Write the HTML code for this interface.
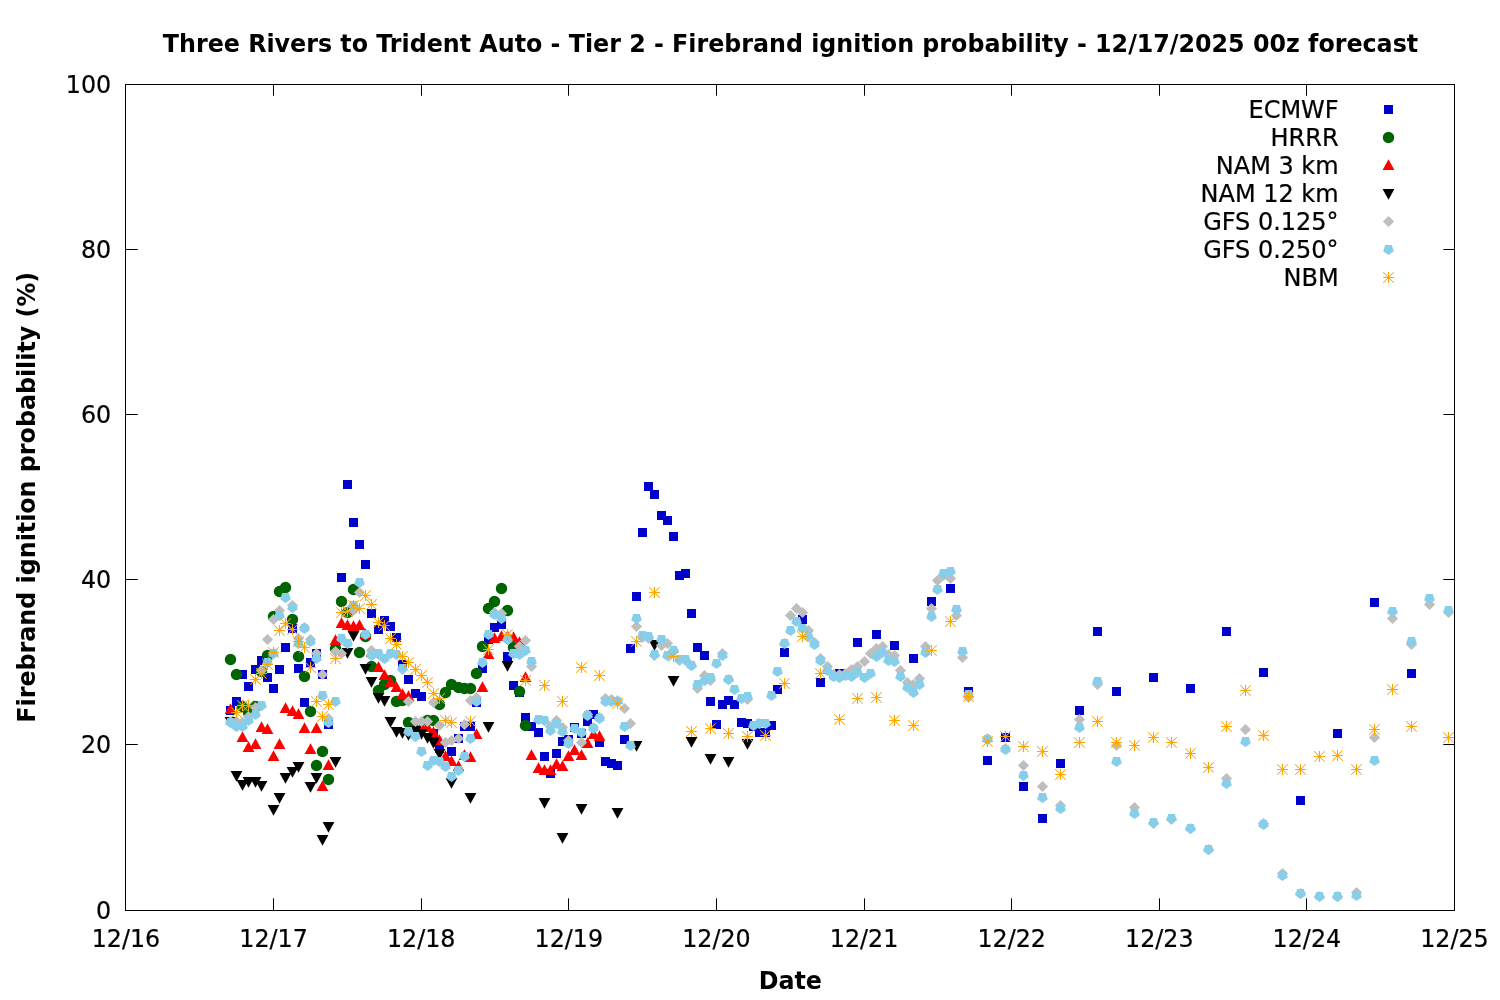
<!DOCTYPE html>
<html lang="en">
<head>
<meta charset="utf-8">
<title>Three Rivers to Trident Auto - Tier 2 - Firebrand ignition probability</title>
<style>
html,body{margin:0;padding:0;background:#fff;}
body{width:1500px;height:1000px;overflow:hidden;}
svg{display:block;font-family:"DejaVu Sans","Liberation Sans",sans-serif;}
.t{font-size:23.77px;fill:#000;stroke:#000;stroke-width:0.22px;}
.b{font-size:23.77px;font-weight:bold;fill:#000;}
.lg{font-size:24.0px;}
.ax{stroke:#000;stroke-width:1;fill:none;shape-rendering:crispEdges;}
</style>
</head>
<body>
<svg width="1500" height="1000" viewBox="0 0 1500 1000">
<rect width="1500" height="1000" fill="#fff"/>
<text class="b" transform="translate(790.50,51.60) scale(1,1.04)" text-anchor="middle" textLength="1255.3" lengthAdjust="spacing">Three Rivers to Trident Auto - Tier 2 - Firebrand ignition probability - 12/17/2025 00z forecast</text>
<text class="b" transform="translate(790.30,989.00) scale(1,1.04)" text-anchor="middle">Date</text>
<text class="b" transform="translate(35.10,497.30) rotate(-90) scale(1,1.04)" text-anchor="middle">Firebrand ignition probability (%)</text>
<text class="t" transform="translate(111.20,919.20) scale(1,1.04)" text-anchor="end">0</text>
<text class="t" transform="translate(111.20,753.20) scale(1,1.04)" text-anchor="end">20</text>
<text class="t" transform="translate(111.20,588.20) scale(1,1.04)" text-anchor="end">40</text>
<text class="t" transform="translate(111.20,423.20) scale(1,1.04)" text-anchor="end">60</text>
<text class="t" transform="translate(111.20,258.20) scale(1,1.04)" text-anchor="end">80</text>
<text class="t" transform="translate(111.20,93.20) scale(1,1.04)" text-anchor="end">100</text>
<text class="t" transform="translate(125.94,947.00) scale(1,1.04)" text-anchor="middle">12/16</text>
<text class="t" transform="translate(273.56,947.00) scale(1,1.04)" text-anchor="middle">12/17</text>
<text class="t" transform="translate(421.17,947.00) scale(1,1.04)" text-anchor="middle">12/18</text>
<text class="t" transform="translate(568.79,947.00) scale(1,1.04)" text-anchor="middle">12/19</text>
<text class="t" transform="translate(716.41,947.00) scale(1,1.04)" text-anchor="middle">12/20</text>
<text class="t" transform="translate(864.02,947.00) scale(1,1.04)" text-anchor="middle">12/21</text>
<text class="t" transform="translate(1011.64,947.00) scale(1,1.04)" text-anchor="middle">12/22</text>
<text class="t" transform="translate(1159.26,947.00) scale(1,1.04)" text-anchor="middle">12/23</text>
<text class="t" transform="translate(1306.87,947.00) scale(1,1.04)" text-anchor="middle">12/24</text>
<text class="t" transform="translate(1454.49,947.00) scale(1,1.04)" text-anchor="middle">12/25</text>
<path d="M125.5 744.5h12.3M1454.5 744.5h-11.2M125.5 579.5h12.3M1454.5 579.5h-11.2M125.5 414.5h12.3M1454.5 414.5h-11.2M125.5 249.5h12.3M1454.5 249.5h-11.2M273.5 910.5v-12.2M273.5 84.5v11.2M421.5 910.5v-12.2M421.5 84.5v11.2M568.5 910.5v-12.2M568.5 84.5v11.2M716.5 910.5v-12.2M716.5 84.5v11.2M864.5 910.5v-12.2M864.5 84.5v11.2M1011.5 910.5v-12.2M1011.5 84.5v11.2M1159.5 910.5v-12.2M1159.5 84.5v11.2M1306.5 910.5v-12.2M1306.5 84.5v11.2" stroke="#000" stroke-width="1" fill="none"/>
<rect class="ax" x="125.5" y="84.5" width="1329" height="826"/>
<g id="pts">
<g class="s-ecmwf">
<rect x="226.00" y="706.00" width="9.0" height="9.0" fill="#0000cd"/>
<rect x="232.00" y="697.00" width="9.0" height="9.0" fill="#0000cd"/>
<rect x="238.00" y="670.00" width="9.0" height="9.0" fill="#0000cd"/>
<rect x="244.00" y="682.00" width="9.0" height="9.0" fill="#0000cd"/>
<rect x="251.00" y="665.00" width="9.0" height="9.0" fill="#0000cd"/>
<rect x="257.00" y="656.00" width="9.0" height="9.0" fill="#0000cd"/>
<rect x="263.00" y="673.00" width="9.0" height="9.0" fill="#0000cd"/>
<rect x="269.00" y="684.00" width="9.0" height="9.0" fill="#0000cd"/>
<rect x="275.00" y="665.00" width="9.0" height="9.0" fill="#0000cd"/>
<rect x="281.00" y="643.00" width="9.0" height="9.0" fill="#0000cd"/>
<rect x="288.00" y="624.00" width="9.0" height="9.0" fill="#0000cd"/>
<rect x="294.00" y="664.00" width="9.0" height="9.0" fill="#0000cd"/>
<rect x="300.00" y="698.00" width="9.0" height="9.0" fill="#0000cd"/>
<rect x="306.00" y="658.00" width="9.0" height="9.0" fill="#0000cd"/>
<rect x="312.00" y="649.00" width="9.0" height="9.0" fill="#0000cd"/>
<rect x="318.00" y="670.00" width="9.0" height="9.0" fill="#0000cd"/>
<rect x="324.00" y="720.00" width="9.0" height="9.0" fill="#0000cd"/>
<rect x="337.00" y="573.00" width="9.0" height="9.0" fill="#0000cd"/>
<rect x="343.00" y="480.00" width="9.0" height="9.0" fill="#0000cd"/>
<rect x="349.00" y="518.00" width="9.0" height="9.0" fill="#0000cd"/>
<rect x="355.00" y="540.00" width="9.0" height="9.0" fill="#0000cd"/>
<rect x="361.00" y="560.00" width="9.0" height="9.0" fill="#0000cd"/>
<rect x="367.00" y="609.00" width="9.0" height="9.0" fill="#0000cd"/>
<rect x="374.00" y="625.00" width="9.0" height="9.0" fill="#0000cd"/>
<rect x="380.00" y="616.00" width="9.0" height="9.0" fill="#0000cd"/>
<rect x="386.00" y="622.00" width="9.0" height="9.0" fill="#0000cd"/>
<rect x="392.00" y="633.00" width="9.0" height="9.0" fill="#0000cd"/>
<rect x="398.00" y="660.00" width="9.0" height="9.0" fill="#0000cd"/>
<rect x="404.00" y="675.00" width="9.0" height="9.0" fill="#0000cd"/>
<rect x="411.00" y="689.00" width="9.0" height="9.0" fill="#0000cd"/>
<rect x="417.00" y="692.00" width="9.0" height="9.0" fill="#0000cd"/>
<rect x="429.00" y="729.00" width="9.0" height="9.0" fill="#0000cd"/>
<rect x="435.00" y="744.00" width="9.0" height="9.0" fill="#0000cd"/>
<rect x="447.00" y="747.00" width="9.0" height="9.0" fill="#0000cd"/>
<rect x="454.00" y="734.00" width="9.0" height="9.0" fill="#0000cd"/>
<rect x="460.00" y="722.00" width="9.0" height="9.0" fill="#0000cd"/>
<rect x="466.00" y="722.00" width="9.0" height="9.0" fill="#0000cd"/>
<rect x="472.00" y="698.00" width="9.0" height="9.0" fill="#0000cd"/>
<rect x="478.00" y="664.00" width="9.0" height="9.0" fill="#0000cd"/>
<rect x="484.00" y="635.00" width="9.0" height="9.0" fill="#0000cd"/>
<rect x="490.00" y="623.00" width="9.0" height="9.0" fill="#0000cd"/>
<rect x="497.00" y="620.00" width="9.0" height="9.0" fill="#0000cd"/>
<rect x="503.00" y="652.00" width="9.0" height="9.0" fill="#0000cd"/>
<rect x="509.00" y="681.00" width="9.0" height="9.0" fill="#0000cd"/>
<rect x="515.00" y="688.00" width="9.0" height="9.0" fill="#0000cd"/>
<rect x="521.00" y="713.00" width="9.0" height="9.0" fill="#0000cd"/>
<rect x="527.00" y="722.00" width="9.0" height="9.0" fill="#0000cd"/>
<rect x="534.00" y="728.00" width="9.0" height="9.0" fill="#0000cd"/>
<rect x="540.00" y="752.00" width="9.0" height="9.0" fill="#0000cd"/>
<rect x="546.00" y="769.00" width="9.0" height="9.0" fill="#0000cd"/>
<rect x="552.00" y="749.00" width="9.0" height="9.0" fill="#0000cd"/>
<rect x="558.00" y="737.00" width="9.0" height="9.0" fill="#0000cd"/>
<rect x="564.00" y="735.00" width="9.0" height="9.0" fill="#0000cd"/>
<rect x="570.00" y="723.00" width="9.0" height="9.0" fill="#0000cd"/>
<rect x="577.00" y="729.00" width="9.0" height="9.0" fill="#0000cd"/>
<rect x="583.00" y="717.00" width="9.0" height="9.0" fill="#0000cd"/>
<rect x="589.00" y="710.00" width="9.0" height="9.0" fill="#0000cd"/>
<rect x="595.00" y="738.00" width="9.0" height="9.0" fill="#0000cd"/>
<rect x="601.00" y="757.00" width="9.0" height="9.0" fill="#0000cd"/>
<rect x="607.00" y="759.00" width="9.0" height="9.0" fill="#0000cd"/>
<rect x="613.00" y="761.00" width="9.0" height="9.0" fill="#0000cd"/>
<rect x="620.00" y="735.00" width="9.0" height="9.0" fill="#0000cd"/>
<rect x="626.00" y="644.00" width="9.0" height="9.0" fill="#0000cd"/>
<rect x="632.00" y="592.00" width="9.0" height="9.0" fill="#0000cd"/>
<rect x="638.00" y="528.00" width="9.0" height="9.0" fill="#0000cd"/>
<rect x="644.00" y="482.00" width="9.0" height="9.0" fill="#0000cd"/>
<rect x="650.00" y="490.00" width="9.0" height="9.0" fill="#0000cd"/>
<rect x="657.00" y="511.00" width="9.0" height="9.0" fill="#0000cd"/>
<rect x="663.00" y="516.00" width="9.0" height="9.0" fill="#0000cd"/>
<rect x="669.00" y="532.00" width="9.0" height="9.0" fill="#0000cd"/>
<rect x="675.00" y="571.00" width="9.0" height="9.0" fill="#0000cd"/>
<rect x="681.00" y="569.00" width="9.0" height="9.0" fill="#0000cd"/>
<rect x="687.00" y="609.00" width="9.0" height="9.0" fill="#0000cd"/>
<rect x="693.00" y="643.00" width="9.0" height="9.0" fill="#0000cd"/>
<rect x="700.00" y="651.00" width="9.0" height="9.0" fill="#0000cd"/>
<rect x="706.00" y="697.00" width="9.0" height="9.0" fill="#0000cd"/>
<rect x="712.00" y="720.00" width="9.0" height="9.0" fill="#0000cd"/>
<rect x="718.00" y="700.00" width="9.0" height="9.0" fill="#0000cd"/>
<rect x="724.00" y="696.00" width="9.0" height="9.0" fill="#0000cd"/>
<rect x="730.00" y="700.00" width="9.0" height="9.0" fill="#0000cd"/>
<rect x="737.00" y="718.00" width="9.0" height="9.0" fill="#0000cd"/>
<rect x="743.00" y="719.00" width="9.0" height="9.0" fill="#0000cd"/>
<rect x="749.00" y="722.00" width="9.0" height="9.0" fill="#0000cd"/>
<rect x="755.00" y="728.00" width="9.0" height="9.0" fill="#0000cd"/>
<rect x="761.00" y="728.00" width="9.0" height="9.0" fill="#0000cd"/>
<rect x="767.00" y="721.00" width="9.0" height="9.0" fill="#0000cd"/>
<rect x="773.00" y="685.00" width="9.0" height="9.0" fill="#0000cd"/>
<rect x="780.00" y="648.00" width="9.0" height="9.0" fill="#0000cd"/>
<rect x="798.00" y="615.00" width="9.0" height="9.0" fill="#0000cd"/>
<rect x="816.00" y="678.00" width="9.0" height="9.0" fill="#0000cd"/>
<rect x="835.00" y="669.00" width="9.0" height="9.0" fill="#0000cd"/>
<rect x="853.00" y="638.00" width="9.0" height="9.0" fill="#0000cd"/>
<rect x="872.00" y="630.00" width="9.0" height="9.0" fill="#0000cd"/>
<rect x="890.00" y="641.00" width="9.0" height="9.0" fill="#0000cd"/>
<rect x="909.00" y="654.00" width="9.0" height="9.0" fill="#0000cd"/>
<rect x="927.00" y="597.00" width="9.0" height="9.0" fill="#0000cd"/>
<rect x="946.00" y="584.00" width="9.0" height="9.0" fill="#0000cd"/>
<rect x="964.00" y="687.00" width="9.0" height="9.0" fill="#0000cd"/>
<rect x="983.00" y="756.00" width="9.0" height="9.0" fill="#0000cd"/>
<rect x="1001.00" y="733.00" width="9.0" height="9.0" fill="#0000cd"/>
<rect x="1019.00" y="782.00" width="9.0" height="9.0" fill="#0000cd"/>
<rect x="1038.00" y="814.00" width="9.0" height="9.0" fill="#0000cd"/>
<rect x="1056.00" y="759.00" width="9.0" height="9.0" fill="#0000cd"/>
<rect x="1075.00" y="706.00" width="9.0" height="9.0" fill="#0000cd"/>
<rect x="1093.00" y="627.00" width="9.0" height="9.0" fill="#0000cd"/>
<rect x="1112.00" y="687.00" width="9.0" height="9.0" fill="#0000cd"/>
<rect x="1149.00" y="673.00" width="9.0" height="9.0" fill="#0000cd"/>
<rect x="1186.00" y="684.00" width="9.0" height="9.0" fill="#0000cd"/>
<rect x="1222.00" y="627.00" width="9.0" height="9.0" fill="#0000cd"/>
<rect x="1259.00" y="668.00" width="9.0" height="9.0" fill="#0000cd"/>
<rect x="1296.00" y="796.00" width="9.0" height="9.0" fill="#0000cd"/>
<rect x="1333.00" y="729.00" width="9.0" height="9.0" fill="#0000cd"/>
<rect x="1370.00" y="598.00" width="9.0" height="9.0" fill="#0000cd"/>
<rect x="1407.00" y="669.00" width="9.0" height="9.0" fill="#0000cd"/>
</g>
<g class="s-hrrr">
<circle cx="230.50" cy="659.50" r="5.7" fill="#006400"/>
<circle cx="236.50" cy="674.50" r="5.7" fill="#006400"/>
<circle cx="242.50" cy="706.50" r="5.7" fill="#006400"/>
<circle cx="248.50" cy="712.50" r="5.7" fill="#006400"/>
<circle cx="255.50" cy="706.50" r="5.7" fill="#006400"/>
<circle cx="261.50" cy="671.50" r="5.7" fill="#006400"/>
<circle cx="267.50" cy="655.50" r="5.7" fill="#006400"/>
<circle cx="273.50" cy="616.50" r="5.7" fill="#006400"/>
<circle cx="279.50" cy="591.50" r="5.7" fill="#006400"/>
<circle cx="285.50" cy="587.50" r="5.7" fill="#006400"/>
<circle cx="292.50" cy="619.50" r="5.7" fill="#006400"/>
<circle cx="298.50" cy="656.50" r="5.7" fill="#006400"/>
<circle cx="304.50" cy="676.50" r="5.7" fill="#006400"/>
<circle cx="310.50" cy="711.50" r="5.7" fill="#006400"/>
<circle cx="316.50" cy="765.50" r="5.7" fill="#006400"/>
<circle cx="322.50" cy="751.50" r="5.7" fill="#006400"/>
<circle cx="328.50" cy="779.50" r="5.7" fill="#006400"/>
<circle cx="335.50" cy="648.50" r="5.7" fill="#006400"/>
<circle cx="341.50" cy="601.50" r="5.7" fill="#006400"/>
<circle cx="347.50" cy="612.50" r="5.7" fill="#006400"/>
<circle cx="353.50" cy="589.50" r="5.7" fill="#006400"/>
<circle cx="359.50" cy="652.50" r="5.7" fill="#006400"/>
<circle cx="365.50" cy="636.50" r="5.7" fill="#006400"/>
<circle cx="371.50" cy="666.50" r="5.7" fill="#006400"/>
<circle cx="378.50" cy="690.50" r="5.7" fill="#006400"/>
<circle cx="384.50" cy="684.50" r="5.7" fill="#006400"/>
<circle cx="390.50" cy="680.50" r="5.7" fill="#006400"/>
<circle cx="396.50" cy="701.50" r="5.7" fill="#006400"/>
<circle cx="402.50" cy="700.50" r="5.7" fill="#006400"/>
<circle cx="408.50" cy="722.50" r="5.7" fill="#006400"/>
<circle cx="427.50" cy="720.50" r="5.7" fill="#006400"/>
<circle cx="433.50" cy="720.50" r="5.7" fill="#006400"/>
<circle cx="439.50" cy="704.50" r="5.7" fill="#006400"/>
<circle cx="445.50" cy="692.50" r="5.7" fill="#006400"/>
<circle cx="451.50" cy="684.50" r="5.7" fill="#006400"/>
<circle cx="458.50" cy="687.50" r="5.7" fill="#006400"/>
<circle cx="464.50" cy="688.50" r="5.7" fill="#006400"/>
<circle cx="470.50" cy="688.50" r="5.7" fill="#006400"/>
<circle cx="476.50" cy="673.50" r="5.7" fill="#006400"/>
<circle cx="482.50" cy="646.50" r="5.7" fill="#006400"/>
<circle cx="488.50" cy="608.50" r="5.7" fill="#006400"/>
<circle cx="494.50" cy="601.50" r="5.7" fill="#006400"/>
<circle cx="501.50" cy="588.50" r="5.7" fill="#006400"/>
<circle cx="507.50" cy="610.50" r="5.7" fill="#006400"/>
<circle cx="513.50" cy="647.50" r="5.7" fill="#006400"/>
<circle cx="519.50" cy="691.50" r="5.7" fill="#006400"/>
<circle cx="525.50" cy="725.50" r="5.7" fill="#006400"/>
</g>
<g class="s-nam3">
<path d="M230.50 703.30l5.9 10.7h-11.8z" fill="#ff0000"/>
<path d="M242.50 731.30l5.9 10.7h-11.8z" fill="#ff0000"/>
<path d="M248.50 741.30l5.9 10.7h-11.8z" fill="#ff0000"/>
<path d="M255.50 738.30l5.9 10.7h-11.8z" fill="#ff0000"/>
<path d="M261.50 721.30l5.9 10.7h-11.8z" fill="#ff0000"/>
<path d="M267.50 723.30l5.9 10.7h-11.8z" fill="#ff0000"/>
<path d="M273.50 750.30l5.9 10.7h-11.8z" fill="#ff0000"/>
<path d="M279.50 738.30l5.9 10.7h-11.8z" fill="#ff0000"/>
<path d="M285.50 702.30l5.9 10.7h-11.8z" fill="#ff0000"/>
<path d="M292.50 705.30l5.9 10.7h-11.8z" fill="#ff0000"/>
<path d="M298.50 708.30l5.9 10.7h-11.8z" fill="#ff0000"/>
<path d="M304.50 722.30l5.9 10.7h-11.8z" fill="#ff0000"/>
<path d="M310.50 743.30l5.9 10.7h-11.8z" fill="#ff0000"/>
<path d="M316.50 722.30l5.9 10.7h-11.8z" fill="#ff0000"/>
<path d="M322.50 780.30l5.9 10.7h-11.8z" fill="#ff0000"/>
<path d="M328.50 759.30l5.9 10.7h-11.8z" fill="#ff0000"/>
<path d="M335.50 634.30l5.9 10.7h-11.8z" fill="#ff0000"/>
<path d="M341.50 617.30l5.9 10.7h-11.8z" fill="#ff0000"/>
<path d="M347.50 619.30l5.9 10.7h-11.8z" fill="#ff0000"/>
<path d="M353.50 620.30l5.9 10.7h-11.8z" fill="#ff0000"/>
<path d="M359.50 619.30l5.9 10.7h-11.8z" fill="#ff0000"/>
<path d="M365.50 628.30l5.9 10.7h-11.8z" fill="#ff0000"/>
<path d="M371.50 646.30l5.9 10.7h-11.8z" fill="#ff0000"/>
<path d="M378.50 661.30l5.9 10.7h-11.8z" fill="#ff0000"/>
<path d="M384.50 669.30l5.9 10.7h-11.8z" fill="#ff0000"/>
<path d="M390.50 676.30l5.9 10.7h-11.8z" fill="#ff0000"/>
<path d="M396.50 681.30l5.9 10.7h-11.8z" fill="#ff0000"/>
<path d="M402.50 688.30l5.9 10.7h-11.8z" fill="#ff0000"/>
<path d="M408.50 690.30l5.9 10.7h-11.8z" fill="#ff0000"/>
<path d="M415.50 720.30l5.9 10.7h-11.8z" fill="#ff0000"/>
<path d="M421.50 720.30l5.9 10.7h-11.8z" fill="#ff0000"/>
<path d="M427.50 721.30l5.9 10.7h-11.8z" fill="#ff0000"/>
<path d="M433.50 726.30l5.9 10.7h-11.8z" fill="#ff0000"/>
<path d="M439.50 734.30l5.9 10.7h-11.8z" fill="#ff0000"/>
<path d="M445.50 750.30l5.9 10.7h-11.8z" fill="#ff0000"/>
<path d="M451.50 755.30l5.9 10.7h-11.8z" fill="#ff0000"/>
<path d="M458.50 760.30l5.9 10.7h-11.8z" fill="#ff0000"/>
<path d="M464.50 749.30l5.9 10.7h-11.8z" fill="#ff0000"/>
<path d="M470.50 751.30l5.9 10.7h-11.8z" fill="#ff0000"/>
<path d="M476.50 728.30l5.9 10.7h-11.8z" fill="#ff0000"/>
<path d="M482.50 681.30l5.9 10.7h-11.8z" fill="#ff0000"/>
<path d="M488.50 648.30l5.9 10.7h-11.8z" fill="#ff0000"/>
<path d="M494.50 632.30l5.9 10.7h-11.8z" fill="#ff0000"/>
<path d="M501.50 630.30l5.9 10.7h-11.8z" fill="#ff0000"/>
<path d="M507.50 630.30l5.9 10.7h-11.8z" fill="#ff0000"/>
<path d="M513.50 631.30l5.9 10.7h-11.8z" fill="#ff0000"/>
<path d="M519.50 636.30l5.9 10.7h-11.8z" fill="#ff0000"/>
<path d="M525.50 671.30l5.9 10.7h-11.8z" fill="#ff0000"/>
<path d="M531.50 749.30l5.9 10.7h-11.8z" fill="#ff0000"/>
<path d="M538.50 762.30l5.9 10.7h-11.8z" fill="#ff0000"/>
<path d="M544.50 764.30l5.9 10.7h-11.8z" fill="#ff0000"/>
<path d="M550.50 764.30l5.9 10.7h-11.8z" fill="#ff0000"/>
<path d="M556.50 758.30l5.9 10.7h-11.8z" fill="#ff0000"/>
<path d="M562.50 760.30l5.9 10.7h-11.8z" fill="#ff0000"/>
<path d="M568.50 750.30l5.9 10.7h-11.8z" fill="#ff0000"/>
<path d="M574.50 744.30l5.9 10.7h-11.8z" fill="#ff0000"/>
<path d="M581.50 749.30l5.9 10.7h-11.8z" fill="#ff0000"/>
<path d="M587.50 737.30l5.9 10.7h-11.8z" fill="#ff0000"/>
<path d="M593.50 728.30l5.9 10.7h-11.8z" fill="#ff0000"/>
<path d="M599.50 730.30l5.9 10.7h-11.8z" fill="#ff0000"/>
</g>
<g class="s-nam12">
<path d="M230.50 727.70l5.9 -10.7h-11.8z" fill="#000000"/>
<path d="M236.50 781.70l5.9 -10.7h-11.8z" fill="#000000"/>
<path d="M242.50 790.70l5.9 -10.7h-11.8z" fill="#000000"/>
<path d="M248.50 787.70l5.9 -10.7h-11.8z" fill="#000000"/>
<path d="M255.50 787.70l5.9 -10.7h-11.8z" fill="#000000"/>
<path d="M261.50 791.70l5.9 -10.7h-11.8z" fill="#000000"/>
<path d="M273.50 815.70l5.9 -10.7h-11.8z" fill="#000000"/>
<path d="M279.50 803.70l5.9 -10.7h-11.8z" fill="#000000"/>
<path d="M285.50 783.70l5.9 -10.7h-11.8z" fill="#000000"/>
<path d="M292.50 777.70l5.9 -10.7h-11.8z" fill="#000000"/>
<path d="M298.50 772.70l5.9 -10.7h-11.8z" fill="#000000"/>
<path d="M310.50 792.70l5.9 -10.7h-11.8z" fill="#000000"/>
<path d="M316.50 783.70l5.9 -10.7h-11.8z" fill="#000000"/>
<path d="M322.50 845.70l5.9 -10.7h-11.8z" fill="#000000"/>
<path d="M328.50 832.70l5.9 -10.7h-11.8z" fill="#000000"/>
<path d="M335.50 767.70l5.9 -10.7h-11.8z" fill="#000000"/>
<path d="M347.50 658.70l5.9 -10.7h-11.8z" fill="#000000"/>
<path d="M353.50 641.70l5.9 -10.7h-11.8z" fill="#000000"/>
<path d="M365.50 674.70l5.9 -10.7h-11.8z" fill="#000000"/>
<path d="M371.50 687.70l5.9 -10.7h-11.8z" fill="#000000"/>
<path d="M378.50 703.70l5.9 -10.7h-11.8z" fill="#000000"/>
<path d="M384.50 706.70l5.9 -10.7h-11.8z" fill="#000000"/>
<path d="M390.50 727.70l5.9 -10.7h-11.8z" fill="#000000"/>
<path d="M396.50 737.70l5.9 -10.7h-11.8z" fill="#000000"/>
<path d="M402.50 738.70l5.9 -10.7h-11.8z" fill="#000000"/>
<path d="M408.50 740.70l5.9 -10.7h-11.8z" fill="#000000"/>
<path d="M415.50 736.70l5.9 -10.7h-11.8z" fill="#000000"/>
<path d="M421.50 739.70l5.9 -10.7h-11.8z" fill="#000000"/>
<path d="M427.50 743.70l5.9 -10.7h-11.8z" fill="#000000"/>
<path d="M433.50 748.70l5.9 -10.7h-11.8z" fill="#000000"/>
<path d="M439.50 759.70l5.9 -10.7h-11.8z" fill="#000000"/>
<path d="M451.50 788.70l5.9 -10.7h-11.8z" fill="#000000"/>
<path d="M470.50 803.70l5.9 -10.7h-11.8z" fill="#000000"/>
<path d="M488.50 732.70l5.9 -10.7h-11.8z" fill="#000000"/>
<path d="M507.50 671.70l5.9 -10.7h-11.8z" fill="#000000"/>
<path d="M544.50 808.70l5.9 -10.7h-11.8z" fill="#000000"/>
<path d="M562.50 843.70l5.9 -10.7h-11.8z" fill="#000000"/>
<path d="M581.50 814.70l5.9 -10.7h-11.8z" fill="#000000"/>
<path d="M617.50 818.70l5.9 -10.7h-11.8z" fill="#000000"/>
<path d="M636.50 751.70l5.9 -10.7h-11.8z" fill="#000000"/>
<path d="M654.50 650.70l5.9 -10.7h-11.8z" fill="#000000"/>
<path d="M673.50 686.70l5.9 -10.7h-11.8z" fill="#000000"/>
<path d="M691.50 747.70l5.9 -10.7h-11.8z" fill="#000000"/>
<path d="M710.50 764.70l5.9 -10.7h-11.8z" fill="#000000"/>
<path d="M728.50 767.70l5.9 -10.7h-11.8z" fill="#000000"/>
<path d="M747.50 749.70l5.9 -10.7h-11.8z" fill="#000000"/>
</g>
<g class="s-gfs125">
<path d="M230.50 715.90l5.6 5.6l-5.6 5.6l-5.6 -5.6z" fill="#bebebe"/>
<path d="M236.50 715.90l5.6 5.6l-5.6 5.6l-5.6 -5.6z" fill="#bebebe"/>
<path d="M242.50 716.90l5.6 5.6l-5.6 5.6l-5.6 -5.6z" fill="#bebebe"/>
<path d="M248.50 710.90l5.6 5.6l-5.6 5.6l-5.6 -5.6z" fill="#bebebe"/>
<path d="M255.50 701.90l5.6 5.6l-5.6 5.6l-5.6 -5.6z" fill="#bebebe"/>
<path d="M261.50 664.90l5.6 5.6l-5.6 5.6l-5.6 -5.6z" fill="#bebebe"/>
<path d="M267.50 633.90l5.6 5.6l-5.6 5.6l-5.6 -5.6z" fill="#bebebe"/>
<path d="M273.50 613.90l5.6 5.6l-5.6 5.6l-5.6 -5.6z" fill="#bebebe"/>
<path d="M279.50 604.90l5.6 5.6l-5.6 5.6l-5.6 -5.6z" fill="#bebebe"/>
<path d="M292.50 599.90l5.6 5.6l-5.6 5.6l-5.6 -5.6z" fill="#bebebe"/>
<path d="M298.50 632.90l5.6 5.6l-5.6 5.6l-5.6 -5.6z" fill="#bebebe"/>
<path d="M304.50 621.90l5.6 5.6l-5.6 5.6l-5.6 -5.6z" fill="#bebebe"/>
<path d="M310.50 633.90l5.6 5.6l-5.6 5.6l-5.6 -5.6z" fill="#bebebe"/>
<path d="M316.50 647.90l5.6 5.6l-5.6 5.6l-5.6 -5.6z" fill="#bebebe"/>
<path d="M322.50 668.90l5.6 5.6l-5.6 5.6l-5.6 -5.6z" fill="#bebebe"/>
<path d="M328.50 712.90l5.6 5.6l-5.6 5.6l-5.6 -5.6z" fill="#bebebe"/>
<path d="M335.50 645.90l5.6 5.6l-5.6 5.6l-5.6 -5.6z" fill="#bebebe"/>
<path d="M341.50 647.90l5.6 5.6l-5.6 5.6l-5.6 -5.6z" fill="#bebebe"/>
<path d="M353.50 604.90l5.6 5.6l-5.6 5.6l-5.6 -5.6z" fill="#bebebe"/>
<path d="M359.50 586.90l5.6 5.6l-5.6 5.6l-5.6 -5.6z" fill="#bebebe"/>
<path d="M371.50 644.90l5.6 5.6l-5.6 5.6l-5.6 -5.6z" fill="#bebebe"/>
<path d="M378.50 648.90l5.6 5.6l-5.6 5.6l-5.6 -5.6z" fill="#bebebe"/>
<path d="M402.50 663.90l5.6 5.6l-5.6 5.6l-5.6 -5.6z" fill="#bebebe"/>
<path d="M408.50 695.90l5.6 5.6l-5.6 5.6l-5.6 -5.6z" fill="#bebebe"/>
<path d="M415.50 715.90l5.6 5.6l-5.6 5.6l-5.6 -5.6z" fill="#bebebe"/>
<path d="M421.50 715.90l5.6 5.6l-5.6 5.6l-5.6 -5.6z" fill="#bebebe"/>
<path d="M427.50 715.90l5.6 5.6l-5.6 5.6l-5.6 -5.6z" fill="#bebebe"/>
<path d="M433.50 696.90l5.6 5.6l-5.6 5.6l-5.6 -5.6z" fill="#bebebe"/>
<path d="M439.50 719.90l5.6 5.6l-5.6 5.6l-5.6 -5.6z" fill="#bebebe"/>
<path d="M445.50 736.90l5.6 5.6l-5.6 5.6l-5.6 -5.6z" fill="#bebebe"/>
<path d="M451.50 734.90l5.6 5.6l-5.6 5.6l-5.6 -5.6z" fill="#bebebe"/>
<path d="M458.50 732.90l5.6 5.6l-5.6 5.6l-5.6 -5.6z" fill="#bebebe"/>
<path d="M464.50 718.90l5.6 5.6l-5.6 5.6l-5.6 -5.6z" fill="#bebebe"/>
<path d="M470.50 694.90l5.6 5.6l-5.6 5.6l-5.6 -5.6z" fill="#bebebe"/>
<path d="M476.50 691.90l5.6 5.6l-5.6 5.6l-5.6 -5.6z" fill="#bebebe"/>
<path d="M494.50 606.90l5.6 5.6l-5.6 5.6l-5.6 -5.6z" fill="#bebebe"/>
<path d="M501.50 607.90l5.6 5.6l-5.6 5.6l-5.6 -5.6z" fill="#bebebe"/>
<path d="M519.50 640.90l5.6 5.6l-5.6 5.6l-5.6 -5.6z" fill="#bebebe"/>
<path d="M525.50 634.90l5.6 5.6l-5.6 5.6l-5.6 -5.6z" fill="#bebebe"/>
<path d="M531.50 660.90l5.6 5.6l-5.6 5.6l-5.6 -5.6z" fill="#bebebe"/>
<path d="M550.50 720.90l5.6 5.6l-5.6 5.6l-5.6 -5.6z" fill="#bebebe"/>
<path d="M556.50 714.90l5.6 5.6l-5.6 5.6l-5.6 -5.6z" fill="#bebebe"/>
<path d="M562.50 721.90l5.6 5.6l-5.6 5.6l-5.6 -5.6z" fill="#bebebe"/>
<path d="M568.50 734.90l5.6 5.6l-5.6 5.6l-5.6 -5.6z" fill="#bebebe"/>
<path d="M581.50 736.90l5.6 5.6l-5.6 5.6l-5.6 -5.6z" fill="#bebebe"/>
<path d="M587.50 708.90l5.6 5.6l-5.6 5.6l-5.6 -5.6z" fill="#bebebe"/>
<path d="M593.50 721.90l5.6 5.6l-5.6 5.6l-5.6 -5.6z" fill="#bebebe"/>
<path d="M599.50 711.90l5.6 5.6l-5.6 5.6l-5.6 -5.6z" fill="#bebebe"/>
<path d="M605.50 692.90l5.6 5.6l-5.6 5.6l-5.6 -5.6z" fill="#bebebe"/>
<path d="M611.50 693.90l5.6 5.6l-5.6 5.6l-5.6 -5.6z" fill="#bebebe"/>
<path d="M617.50 694.90l5.6 5.6l-5.6 5.6l-5.6 -5.6z" fill="#bebebe"/>
<path d="M624.50 702.90l5.6 5.6l-5.6 5.6l-5.6 -5.6z" fill="#bebebe"/>
<path d="M630.50 717.90l5.6 5.6l-5.6 5.6l-5.6 -5.6z" fill="#bebebe"/>
<path d="M636.50 620.90l5.6 5.6l-5.6 5.6l-5.6 -5.6z" fill="#bebebe"/>
<path d="M642.50 631.90l5.6 5.6l-5.6 5.6l-5.6 -5.6z" fill="#bebebe"/>
<path d="M648.50 632.90l5.6 5.6l-5.6 5.6l-5.6 -5.6z" fill="#bebebe"/>
<path d="M654.50 649.90l5.6 5.6l-5.6 5.6l-5.6 -5.6z" fill="#bebebe"/>
<path d="M661.50 639.90l5.6 5.6l-5.6 5.6l-5.6 -5.6z" fill="#bebebe"/>
<path d="M667.50 637.90l5.6 5.6l-5.6 5.6l-5.6 -5.6z" fill="#bebebe"/>
<path d="M673.50 644.90l5.6 5.6l-5.6 5.6l-5.6 -5.6z" fill="#bebebe"/>
<path d="M679.50 654.90l5.6 5.6l-5.6 5.6l-5.6 -5.6z" fill="#bebebe"/>
<path d="M685.50 654.90l5.6 5.6l-5.6 5.6l-5.6 -5.6z" fill="#bebebe"/>
<path d="M691.50 659.90l5.6 5.6l-5.6 5.6l-5.6 -5.6z" fill="#bebebe"/>
<path d="M697.50 682.90l5.6 5.6l-5.6 5.6l-5.6 -5.6z" fill="#bebebe"/>
<path d="M704.50 669.90l5.6 5.6l-5.6 5.6l-5.6 -5.6z" fill="#bebebe"/>
<path d="M710.50 674.90l5.6 5.6l-5.6 5.6l-5.6 -5.6z" fill="#bebebe"/>
<path d="M722.50 647.90l5.6 5.6l-5.6 5.6l-5.6 -5.6z" fill="#bebebe"/>
<path d="M728.50 673.90l5.6 5.6l-5.6 5.6l-5.6 -5.6z" fill="#bebebe"/>
<path d="M747.50 693.90l5.6 5.6l-5.6 5.6l-5.6 -5.6z" fill="#bebebe"/>
<path d="M759.50 717.90l5.6 5.6l-5.6 5.6l-5.6 -5.6z" fill="#bebebe"/>
<path d="M784.50 637.90l5.6 5.6l-5.6 5.6l-5.6 -5.6z" fill="#bebebe"/>
<path d="M790.50 609.90l5.6 5.6l-5.6 5.6l-5.6 -5.6z" fill="#bebebe"/>
<path d="M796.50 602.90l5.6 5.6l-5.6 5.6l-5.6 -5.6z" fill="#bebebe"/>
<path d="M802.50 606.90l5.6 5.6l-5.6 5.6l-5.6 -5.6z" fill="#bebebe"/>
<path d="M808.50 624.90l5.6 5.6l-5.6 5.6l-5.6 -5.6z" fill="#bebebe"/>
<path d="M814.50 636.90l5.6 5.6l-5.6 5.6l-5.6 -5.6z" fill="#bebebe"/>
<path d="M820.50 652.90l5.6 5.6l-5.6 5.6l-5.6 -5.6z" fill="#bebebe"/>
<path d="M827.50 660.90l5.6 5.6l-5.6 5.6l-5.6 -5.6z" fill="#bebebe"/>
<path d="M833.50 668.90l5.6 5.6l-5.6 5.6l-5.6 -5.6z" fill="#bebebe"/>
<path d="M839.50 668.90l5.6 5.6l-5.6 5.6l-5.6 -5.6z" fill="#bebebe"/>
<path d="M845.50 667.90l5.6 5.6l-5.6 5.6l-5.6 -5.6z" fill="#bebebe"/>
<path d="M851.50 663.90l5.6 5.6l-5.6 5.6l-5.6 -5.6z" fill="#bebebe"/>
<path d="M857.50 660.90l5.6 5.6l-5.6 5.6l-5.6 -5.6z" fill="#bebebe"/>
<path d="M864.50 655.90l5.6 5.6l-5.6 5.6l-5.6 -5.6z" fill="#bebebe"/>
<path d="M870.50 647.90l5.6 5.6l-5.6 5.6l-5.6 -5.6z" fill="#bebebe"/>
<path d="M876.50 642.90l5.6 5.6l-5.6 5.6l-5.6 -5.6z" fill="#bebebe"/>
<path d="M882.50 640.90l5.6 5.6l-5.6 5.6l-5.6 -5.6z" fill="#bebebe"/>
<path d="M888.50 648.90l5.6 5.6l-5.6 5.6l-5.6 -5.6z" fill="#bebebe"/>
<path d="M894.50 649.90l5.6 5.6l-5.6 5.6l-5.6 -5.6z" fill="#bebebe"/>
<path d="M900.50 664.90l5.6 5.6l-5.6 5.6l-5.6 -5.6z" fill="#bebebe"/>
<path d="M907.50 676.90l5.6 5.6l-5.6 5.6l-5.6 -5.6z" fill="#bebebe"/>
<path d="M913.50 678.90l5.6 5.6l-5.6 5.6l-5.6 -5.6z" fill="#bebebe"/>
<path d="M919.50 672.90l5.6 5.6l-5.6 5.6l-5.6 -5.6z" fill="#bebebe"/>
<path d="M925.50 640.90l5.6 5.6l-5.6 5.6l-5.6 -5.6z" fill="#bebebe"/>
<path d="M931.50 602.90l5.6 5.6l-5.6 5.6l-5.6 -5.6z" fill="#bebebe"/>
<path d="M937.50 574.90l5.6 5.6l-5.6 5.6l-5.6 -5.6z" fill="#bebebe"/>
<path d="M943.50 569.90l5.6 5.6l-5.6 5.6l-5.6 -5.6z" fill="#bebebe"/>
<path d="M950.50 572.90l5.6 5.6l-5.6 5.6l-5.6 -5.6z" fill="#bebebe"/>
<path d="M956.50 609.90l5.6 5.6l-5.6 5.6l-5.6 -5.6z" fill="#bebebe"/>
<path d="M962.50 651.90l5.6 5.6l-5.6 5.6l-5.6 -5.6z" fill="#bebebe"/>
<path d="M968.50 691.90l5.6 5.6l-5.6 5.6l-5.6 -5.6z" fill="#bebebe"/>
<path d="M987.50 732.90l5.6 5.6l-5.6 5.6l-5.6 -5.6z" fill="#bebebe"/>
<path d="M1005.50 742.90l5.6 5.6l-5.6 5.6l-5.6 -5.6z" fill="#bebebe"/>
<path d="M1023.50 759.90l5.6 5.6l-5.6 5.6l-5.6 -5.6z" fill="#bebebe"/>
<path d="M1042.50 780.90l5.6 5.6l-5.6 5.6l-5.6 -5.6z" fill="#bebebe"/>
<path d="M1060.50 799.90l5.6 5.6l-5.6 5.6l-5.6 -5.6z" fill="#bebebe"/>
<path d="M1079.50 713.90l5.6 5.6l-5.6 5.6l-5.6 -5.6z" fill="#bebebe"/>
<path d="M1097.50 678.90l5.6 5.6l-5.6 5.6l-5.6 -5.6z" fill="#bebebe"/>
<path d="M1116.50 739.90l5.6 5.6l-5.6 5.6l-5.6 -5.6z" fill="#bebebe"/>
<path d="M1134.50 801.90l5.6 5.6l-5.6 5.6l-5.6 -5.6z" fill="#bebebe"/>
<path d="M1153.50 817.90l5.6 5.6l-5.6 5.6l-5.6 -5.6z" fill="#bebebe"/>
<path d="M1171.50 813.90l5.6 5.6l-5.6 5.6l-5.6 -5.6z" fill="#bebebe"/>
<path d="M1190.50 822.90l5.6 5.6l-5.6 5.6l-5.6 -5.6z" fill="#bebebe"/>
<path d="M1208.50 843.90l5.6 5.6l-5.6 5.6l-5.6 -5.6z" fill="#bebebe"/>
<path d="M1226.50 772.90l5.6 5.6l-5.6 5.6l-5.6 -5.6z" fill="#bebebe"/>
<path d="M1245.50 723.90l5.6 5.6l-5.6 5.6l-5.6 -5.6z" fill="#bebebe"/>
<path d="M1263.50 817.90l5.6 5.6l-5.6 5.6l-5.6 -5.6z" fill="#bebebe"/>
<path d="M1282.50 867.90l5.6 5.6l-5.6 5.6l-5.6 -5.6z" fill="#bebebe"/>
<path d="M1300.50 887.90l5.6 5.6l-5.6 5.6l-5.6 -5.6z" fill="#bebebe"/>
<path d="M1319.50 890.90l5.6 5.6l-5.6 5.6l-5.6 -5.6z" fill="#bebebe"/>
<path d="M1337.50 890.90l5.6 5.6l-5.6 5.6l-5.6 -5.6z" fill="#bebebe"/>
<path d="M1356.50 886.90l5.6 5.6l-5.6 5.6l-5.6 -5.6z" fill="#bebebe"/>
<path d="M1374.50 731.90l5.6 5.6l-5.6 5.6l-5.6 -5.6z" fill="#bebebe"/>
<path d="M1392.50 612.90l5.6 5.6l-5.6 5.6l-5.6 -5.6z" fill="#bebebe"/>
<path d="M1411.50 638.90l5.6 5.6l-5.6 5.6l-5.6 -5.6z" fill="#bebebe"/>
<path d="M1429.50 598.90l5.6 5.6l-5.6 5.6l-5.6 -5.6z" fill="#bebebe"/>
<path d="M1448.50 606.90l5.6 5.6l-5.6 5.6l-5.6 -5.6z" fill="#bebebe"/>
</g>
<g class="s-gfs250">
<polygon points="230.50,728.10 225.17,724.23 227.21,717.97 233.79,717.97 235.83,724.23" fill="#87ceeb"/>
<polygon points="236.50,732.10 231.17,728.23 233.21,721.97 239.79,721.97 241.83,728.23" fill="#87ceeb"/>
<polygon points="242.50,732.10 237.17,728.23 239.21,721.97 245.79,721.97 247.83,728.23" fill="#87ceeb"/>
<polygon points="248.50,726.10 243.17,722.23 245.21,715.97 251.79,715.97 253.83,722.23" fill="#87ceeb"/>
<polygon points="255.50,720.10 250.17,716.23 252.21,709.97 258.79,709.97 260.83,716.23" fill="#87ceeb"/>
<polygon points="261.50,711.10 256.17,707.23 258.21,700.97 264.79,700.97 266.83,707.23" fill="#87ceeb"/>
<polygon points="267.50,668.10 262.17,664.23 264.21,657.97 270.79,657.97 272.83,664.23" fill="#87ceeb"/>
<polygon points="273.50,659.10 268.17,655.23 270.21,648.97 276.79,648.97 278.83,655.23" fill="#87ceeb"/>
<polygon points="279.50,621.10 274.17,617.23 276.21,610.97 282.79,610.97 284.83,617.23" fill="#87ceeb"/>
<polygon points="285.50,603.10 280.17,599.23 282.21,592.97 288.79,592.97 290.83,599.23" fill="#87ceeb"/>
<polygon points="292.50,613.10 287.17,609.23 289.21,602.97 295.79,602.97 297.83,609.23" fill="#87ceeb"/>
<polygon points="298.50,649.10 293.17,645.23 295.21,638.97 301.79,638.97 303.83,645.23" fill="#87ceeb"/>
<polygon points="304.50,634.10 299.17,630.23 301.21,623.97 307.79,623.97 309.83,630.23" fill="#87ceeb"/>
<polygon points="310.50,647.10 305.17,643.23 307.21,636.97 313.79,636.97 315.83,643.23" fill="#87ceeb"/>
<polygon points="316.50,664.10 311.17,660.23 313.21,653.97 319.79,653.97 321.83,660.23" fill="#87ceeb"/>
<polygon points="322.50,701.10 317.17,697.23 319.21,690.97 325.79,690.97 327.83,697.23" fill="#87ceeb"/>
<polygon points="328.50,728.10 323.17,724.23 325.21,717.97 331.79,717.97 333.83,724.23" fill="#87ceeb"/>
<polygon points="335.50,707.10 330.17,703.23 332.21,696.97 338.79,696.97 340.83,703.23" fill="#87ceeb"/>
<polygon points="341.50,644.10 336.17,640.23 338.21,633.97 344.79,633.97 346.83,640.23" fill="#87ceeb"/>
<polygon points="347.50,649.10 342.17,645.23 344.21,638.97 350.79,638.97 352.83,645.23" fill="#87ceeb"/>
<polygon points="353.50,611.10 348.17,607.23 350.21,600.97 356.79,600.97 358.83,607.23" fill="#87ceeb"/>
<polygon points="359.50,588.10 354.17,584.23 356.21,577.97 362.79,577.97 364.83,584.23" fill="#87ceeb"/>
<polygon points="365.50,640.10 360.17,636.23 362.21,629.97 368.79,629.97 370.83,636.23" fill="#87ceeb"/>
<polygon points="371.50,661.10 366.17,657.23 368.21,650.97 374.79,650.97 376.83,657.23" fill="#87ceeb"/>
<polygon points="378.50,659.10 373.17,655.23 375.21,648.97 381.79,648.97 383.83,655.23" fill="#87ceeb"/>
<polygon points="384.50,664.10 379.17,660.23 381.21,653.97 387.79,653.97 389.83,660.23" fill="#87ceeb"/>
<polygon points="390.50,659.10 385.17,655.23 387.21,648.97 393.79,648.97 395.83,655.23" fill="#87ceeb"/>
<polygon points="396.50,660.10 391.17,656.23 393.21,649.97 399.79,649.97 401.83,656.23" fill="#87ceeb"/>
<polygon points="402.50,674.10 397.17,670.23 399.21,663.97 405.79,663.97 407.83,670.23" fill="#87ceeb"/>
<polygon points="408.50,737.10 403.17,733.23 405.21,726.97 411.79,726.97 413.83,733.23" fill="#87ceeb"/>
<polygon points="415.50,742.10 410.17,738.23 412.21,731.97 418.79,731.97 420.83,738.23" fill="#87ceeb"/>
<polygon points="421.50,757.10 416.17,753.23 418.21,746.97 424.79,746.97 426.83,753.23" fill="#87ceeb"/>
<polygon points="427.50,771.10 422.17,767.23 424.21,760.97 430.79,760.97 432.83,767.23" fill="#87ceeb"/>
<polygon points="433.50,766.10 428.17,762.23 430.21,755.97 436.79,755.97 438.83,762.23" fill="#87ceeb"/>
<polygon points="439.50,767.10 434.17,763.23 436.21,756.97 442.79,756.97 444.83,763.23" fill="#87ceeb"/>
<polygon points="445.50,772.10 440.17,768.23 442.21,761.97 448.79,761.97 450.83,768.23" fill="#87ceeb"/>
<polygon points="451.50,782.10 446.17,778.23 448.21,771.97 454.79,771.97 456.83,778.23" fill="#87ceeb"/>
<polygon points="458.50,776.10 453.17,772.23 455.21,765.97 461.79,765.97 463.83,772.23" fill="#87ceeb"/>
<polygon points="464.50,762.10 459.17,758.23 461.21,751.97 467.79,751.97 469.83,758.23" fill="#87ceeb"/>
<polygon points="470.50,744.10 465.17,740.23 467.21,733.97 473.79,733.97 475.83,740.23" fill="#87ceeb"/>
<polygon points="476.50,707.10 471.17,703.23 473.21,696.97 479.79,696.97 481.83,703.23" fill="#87ceeb"/>
<polygon points="482.50,668.10 477.17,664.23 479.21,657.97 485.79,657.97 487.83,664.23" fill="#87ceeb"/>
<polygon points="488.50,640.10 483.17,636.23 485.21,629.97 491.79,629.97 493.83,636.23" fill="#87ceeb"/>
<polygon points="494.50,620.10 489.17,616.23 491.21,609.97 497.79,609.97 499.83,616.23" fill="#87ceeb"/>
<polygon points="501.50,624.10 496.17,620.23 498.21,613.97 504.79,613.97 506.83,620.23" fill="#87ceeb"/>
<polygon points="507.50,645.10 502.17,641.23 504.21,634.97 510.79,634.97 512.83,641.23" fill="#87ceeb"/>
<polygon points="513.50,659.10 508.17,655.23 510.21,648.97 516.79,648.97 518.83,655.23" fill="#87ceeb"/>
<polygon points="519.50,660.10 514.17,656.23 516.21,649.97 522.79,649.97 524.83,656.23" fill="#87ceeb"/>
<polygon points="525.50,656.10 520.17,652.23 522.21,645.97 528.79,645.97 530.83,652.23" fill="#87ceeb"/>
<polygon points="531.50,667.10 526.17,663.23 528.21,656.97 534.79,656.97 536.83,663.23" fill="#87ceeb"/>
<polygon points="538.50,725.10 533.17,721.23 535.21,714.97 541.79,714.97 543.83,721.23" fill="#87ceeb"/>
<polygon points="544.50,726.10 539.17,722.23 541.21,715.97 547.79,715.97 549.83,722.23" fill="#87ceeb"/>
<polygon points="550.50,736.10 545.17,732.23 547.21,725.97 553.79,725.97 555.83,732.23" fill="#87ceeb"/>
<polygon points="556.50,729.10 551.17,725.23 553.21,718.97 559.79,718.97 561.83,725.23" fill="#87ceeb"/>
<polygon points="562.50,737.10 557.17,733.23 559.21,726.97 565.79,726.97 567.83,733.23" fill="#87ceeb"/>
<polygon points="568.50,749.10 563.17,745.23 565.21,738.97 571.79,738.97 573.83,745.23" fill="#87ceeb"/>
<polygon points="574.50,734.10 569.17,730.23 571.21,723.97 577.79,723.97 579.83,730.23" fill="#87ceeb"/>
<polygon points="581.50,738.10 576.17,734.23 578.21,727.97 584.79,727.97 586.83,734.23" fill="#87ceeb"/>
<polygon points="587.50,721.10 582.17,717.23 584.21,710.97 590.79,710.97 592.83,717.23" fill="#87ceeb"/>
<polygon points="593.50,734.10 588.17,730.23 590.21,723.97 596.79,723.97 598.83,730.23" fill="#87ceeb"/>
<polygon points="599.50,724.10 594.17,720.23 596.21,713.97 602.79,713.97 604.83,720.23" fill="#87ceeb"/>
<polygon points="605.50,707.10 600.17,703.23 602.21,696.97 608.79,696.97 610.83,703.23" fill="#87ceeb"/>
<polygon points="611.50,707.10 606.17,703.23 608.21,696.97 614.79,696.97 616.83,703.23" fill="#87ceeb"/>
<polygon points="617.50,707.10 612.17,703.23 614.21,696.97 620.79,696.97 622.83,703.23" fill="#87ceeb"/>
<polygon points="624.50,732.10 619.17,728.23 621.21,721.97 627.79,721.97 629.83,728.23" fill="#87ceeb"/>
<polygon points="630.50,751.10 625.17,747.23 627.21,740.97 633.79,740.97 635.83,747.23" fill="#87ceeb"/>
<polygon points="636.50,624.10 631.17,620.23 633.21,613.97 639.79,613.97 641.83,620.23" fill="#87ceeb"/>
<polygon points="642.50,641.10 637.17,637.23 639.21,630.97 645.79,630.97 647.83,637.23" fill="#87ceeb"/>
<polygon points="648.50,642.10 643.17,638.23 645.21,631.97 651.79,631.97 653.83,638.23" fill="#87ceeb"/>
<polygon points="654.50,660.10 649.17,656.23 651.21,649.97 657.79,649.97 659.83,656.23" fill="#87ceeb"/>
<polygon points="661.50,645.10 656.17,641.23 658.21,634.97 664.79,634.97 666.83,641.23" fill="#87ceeb"/>
<polygon points="667.50,661.10 662.17,657.23 664.21,650.97 670.79,650.97 672.83,657.23" fill="#87ceeb"/>
<polygon points="673.50,656.10 668.17,652.23 670.21,645.97 676.79,645.97 678.83,652.23" fill="#87ceeb"/>
<polygon points="679.50,665.10 674.17,661.23 676.21,654.97 682.79,654.97 684.83,661.23" fill="#87ceeb"/>
<polygon points="685.50,665.10 680.17,661.23 682.21,654.97 688.79,654.97 690.83,661.23" fill="#87ceeb"/>
<polygon points="691.50,671.10 686.17,667.23 688.21,660.97 694.79,660.97 696.83,667.23" fill="#87ceeb"/>
<polygon points="697.50,690.10 692.17,686.23 694.21,679.97 700.79,679.97 702.83,686.23" fill="#87ceeb"/>
<polygon points="704.50,686.10 699.17,682.23 701.21,675.97 707.79,675.97 709.83,682.23" fill="#87ceeb"/>
<polygon points="710.50,683.10 705.17,679.23 707.21,672.97 713.79,672.97 715.83,679.23" fill="#87ceeb"/>
<polygon points="716.50,669.10 711.17,665.23 713.21,658.97 719.79,658.97 721.83,665.23" fill="#87ceeb"/>
<polygon points="722.50,661.10 717.17,657.23 719.21,650.97 725.79,650.97 727.83,657.23" fill="#87ceeb"/>
<polygon points="728.50,685.10 723.17,681.23 725.21,674.97 731.79,674.97 733.83,681.23" fill="#87ceeb"/>
<polygon points="734.50,695.10 729.17,691.23 731.21,684.97 737.79,684.97 739.83,691.23" fill="#87ceeb"/>
<polygon points="741.50,704.10 736.17,700.23 738.21,693.97 744.79,693.97 746.83,700.23" fill="#87ceeb"/>
<polygon points="747.50,702.10 742.17,698.23 744.21,691.97 750.79,691.97 752.83,698.23" fill="#87ceeb"/>
<polygon points="753.50,731.10 748.17,727.23 750.21,720.97 756.79,720.97 758.83,727.23" fill="#87ceeb"/>
<polygon points="759.50,729.10 754.17,725.23 756.21,718.97 762.79,718.97 764.83,725.23" fill="#87ceeb"/>
<polygon points="765.50,729.10 760.17,725.23 762.21,718.97 768.79,718.97 770.83,725.23" fill="#87ceeb"/>
<polygon points="771.50,701.10 766.17,697.23 768.21,690.97 774.79,690.97 776.83,697.23" fill="#87ceeb"/>
<polygon points="777.50,677.10 772.17,673.23 774.21,666.97 780.79,666.97 782.83,673.23" fill="#87ceeb"/>
<polygon points="784.50,649.10 779.17,645.23 781.21,638.97 787.79,638.97 789.83,645.23" fill="#87ceeb"/>
<polygon points="790.50,636.10 785.17,632.23 787.21,625.97 793.79,625.97 795.83,632.23" fill="#87ceeb"/>
<polygon points="796.50,627.10 791.17,623.23 793.21,616.97 799.79,616.97 801.83,623.23" fill="#87ceeb"/>
<polygon points="802.50,634.10 797.17,630.23 799.21,623.97 805.79,623.97 807.83,630.23" fill="#87ceeb"/>
<polygon points="808.50,642.10 803.17,638.23 805.21,631.97 811.79,631.97 813.83,638.23" fill="#87ceeb"/>
<polygon points="814.50,650.10 809.17,646.23 811.21,639.97 817.79,639.97 819.83,646.23" fill="#87ceeb"/>
<polygon points="820.50,666.10 815.17,662.23 817.21,655.97 823.79,655.97 825.83,662.23" fill="#87ceeb"/>
<polygon points="827.50,676.10 822.17,672.23 824.21,665.97 830.79,665.97 832.83,672.23" fill="#87ceeb"/>
<polygon points="833.50,682.10 828.17,678.23 830.21,671.97 836.79,671.97 838.83,678.23" fill="#87ceeb"/>
<polygon points="839.50,683.10 834.17,679.23 836.21,672.97 842.79,672.97 844.83,679.23" fill="#87ceeb"/>
<polygon points="845.50,681.10 840.17,677.23 842.21,670.97 848.79,670.97 850.83,677.23" fill="#87ceeb"/>
<polygon points="851.50,682.10 846.17,678.23 848.21,671.97 854.79,671.97 856.83,678.23" fill="#87ceeb"/>
<polygon points="857.50,678.10 852.17,674.23 854.21,667.97 860.79,667.97 862.83,674.23" fill="#87ceeb"/>
<polygon points="864.50,683.10 859.17,679.23 861.21,672.97 867.79,672.97 869.83,679.23" fill="#87ceeb"/>
<polygon points="870.50,679.10 865.17,675.23 867.21,668.97 873.79,668.97 875.83,675.23" fill="#87ceeb"/>
<polygon points="876.50,662.10 871.17,658.23 873.21,651.97 879.79,651.97 881.83,658.23" fill="#87ceeb"/>
<polygon points="882.50,658.10 877.17,654.23 879.21,647.97 885.79,647.97 887.83,654.23" fill="#87ceeb"/>
<polygon points="888.50,666.10 883.17,662.23 885.21,655.97 891.79,655.97 893.83,662.23" fill="#87ceeb"/>
<polygon points="894.50,667.10 889.17,663.23 891.21,656.97 897.79,656.97 899.83,663.23" fill="#87ceeb"/>
<polygon points="900.50,682.10 895.17,678.23 897.21,671.97 903.79,671.97 905.83,678.23" fill="#87ceeb"/>
<polygon points="907.50,693.10 902.17,689.23 904.21,682.97 910.79,682.97 912.83,689.23" fill="#87ceeb"/>
<polygon points="913.50,698.10 908.17,694.23 910.21,687.97 916.79,687.97 918.83,694.23" fill="#87ceeb"/>
<polygon points="919.50,690.10 914.17,686.23 916.21,679.97 922.79,679.97 924.83,686.23" fill="#87ceeb"/>
<polygon points="925.50,658.10 920.17,654.23 922.21,647.97 928.79,647.97 930.83,654.23" fill="#87ceeb"/>
<polygon points="931.50,622.10 926.17,618.23 928.21,611.97 934.79,611.97 936.83,618.23" fill="#87ceeb"/>
<polygon points="937.50,595.10 932.17,591.23 934.21,584.97 940.79,584.97 942.83,591.23" fill="#87ceeb"/>
<polygon points="943.50,579.10 938.17,575.23 940.21,568.97 946.79,568.97 948.83,575.23" fill="#87ceeb"/>
<polygon points="950.50,577.10 945.17,573.23 947.21,566.97 953.79,566.97 955.83,573.23" fill="#87ceeb"/>
<polygon points="956.50,615.10 951.17,611.23 953.21,604.97 959.79,604.97 961.83,611.23" fill="#87ceeb"/>
<polygon points="962.50,657.10 957.17,653.23 959.21,646.97 965.79,646.97 967.83,653.23" fill="#87ceeb"/>
<polygon points="968.50,700.10 963.17,696.23 965.21,689.97 971.79,689.97 973.83,696.23" fill="#87ceeb"/>
<polygon points="987.50,745.10 982.17,741.23 984.21,734.97 990.79,734.97 992.83,741.23" fill="#87ceeb"/>
<polygon points="1005.50,755.10 1000.17,751.23 1002.21,744.97 1008.79,744.97 1010.83,751.23" fill="#87ceeb"/>
<polygon points="1023.50,781.10 1018.17,777.23 1020.21,770.97 1026.79,770.97 1028.83,777.23" fill="#87ceeb"/>
<polygon points="1042.50,803.10 1037.17,799.23 1039.21,792.97 1045.79,792.97 1047.83,799.23" fill="#87ceeb"/>
<polygon points="1060.50,814.10 1055.17,810.23 1057.21,803.97 1063.79,803.97 1065.83,810.23" fill="#87ceeb"/>
<polygon points="1079.50,733.10 1074.17,729.23 1076.21,722.97 1082.79,722.97 1084.83,729.23" fill="#87ceeb"/>
<polygon points="1097.50,687.10 1092.17,683.23 1094.21,676.97 1100.79,676.97 1102.83,683.23" fill="#87ceeb"/>
<polygon points="1116.50,767.10 1111.17,763.23 1113.21,756.97 1119.79,756.97 1121.83,763.23" fill="#87ceeb"/>
<polygon points="1134.50,819.10 1129.17,815.23 1131.21,808.97 1137.79,808.97 1139.83,815.23" fill="#87ceeb"/>
<polygon points="1153.50,828.10 1148.17,824.23 1150.21,817.97 1156.79,817.97 1158.83,824.23" fill="#87ceeb"/>
<polygon points="1171.50,824.10 1166.17,820.23 1168.21,813.97 1174.79,813.97 1176.83,820.23" fill="#87ceeb"/>
<polygon points="1190.50,834.10 1185.17,830.23 1187.21,823.97 1193.79,823.97 1195.83,830.23" fill="#87ceeb"/>
<polygon points="1208.50,855.10 1203.17,851.23 1205.21,844.97 1211.79,844.97 1213.83,851.23" fill="#87ceeb"/>
<polygon points="1226.50,789.10 1221.17,785.23 1223.21,778.97 1229.79,778.97 1231.83,785.23" fill="#87ceeb"/>
<polygon points="1245.50,747.10 1240.17,743.23 1242.21,736.97 1248.79,736.97 1250.83,743.23" fill="#87ceeb"/>
<polygon points="1263.50,830.10 1258.17,826.23 1260.21,819.97 1266.79,819.97 1268.83,826.23" fill="#87ceeb"/>
<polygon points="1282.50,881.10 1277.17,877.23 1279.21,870.97 1285.79,870.97 1287.83,877.23" fill="#87ceeb"/>
<polygon points="1300.50,899.10 1295.17,895.23 1297.21,888.97 1303.79,888.97 1305.83,895.23" fill="#87ceeb"/>
<polygon points="1319.50,902.10 1314.17,898.23 1316.21,891.97 1322.79,891.97 1324.83,898.23" fill="#87ceeb"/>
<polygon points="1337.50,902.10 1332.17,898.23 1334.21,891.97 1340.79,891.97 1342.83,898.23" fill="#87ceeb"/>
<polygon points="1356.50,901.10 1351.17,897.23 1353.21,890.97 1359.79,890.97 1361.83,897.23" fill="#87ceeb"/>
<polygon points="1374.50,766.10 1369.17,762.23 1371.21,755.97 1377.79,755.97 1379.83,762.23" fill="#87ceeb"/>
<polygon points="1392.50,617.10 1387.17,613.23 1389.21,606.97 1395.79,606.97 1397.83,613.23" fill="#87ceeb"/>
<polygon points="1411.50,647.10 1406.17,643.23 1408.21,636.97 1414.79,636.97 1416.83,643.23" fill="#87ceeb"/>
<polygon points="1429.50,604.10 1424.17,600.23 1426.21,593.97 1432.79,593.97 1434.83,600.23" fill="#87ceeb"/>
<polygon points="1448.50,616.10 1443.17,612.23 1445.21,605.97 1451.79,605.97 1453.83,612.23" fill="#87ceeb"/>
</g>
<g class="s-nbm">
<path d="M231.10 712.50h10.8M236.50 707.10v10.8M231.25 707.25l10.5 10.5M231.25 717.75l10.5 -10.5" stroke="#ffa500" stroke-width="1.05" fill="none"/>
<path d="M237.10 705.50h10.8M242.50 700.10v10.8M237.25 700.25l10.5 10.5M237.25 710.75l10.5 -10.5" stroke="#ffa500" stroke-width="1.05" fill="none"/>
<path d="M243.10 705.50h10.8M248.50 700.10v10.8M243.25 700.25l10.5 10.5M243.25 710.75l10.5 -10.5" stroke="#ffa500" stroke-width="1.05" fill="none"/>
<path d="M250.10 679.50h10.8M255.50 674.10v10.8M250.25 674.25l10.5 10.5M250.25 684.75l10.5 -10.5" stroke="#ffa500" stroke-width="1.05" fill="none"/>
<path d="M256.10 673.50h10.8M261.50 668.10v10.8M256.25 668.25l10.5 10.5M256.25 678.75l10.5 -10.5" stroke="#ffa500" stroke-width="1.05" fill="none"/>
<path d="M262.10 664.50h10.8M267.50 659.10v10.8M262.25 659.25l10.5 10.5M262.25 669.75l10.5 -10.5" stroke="#ffa500" stroke-width="1.05" fill="none"/>
<path d="M268.10 652.50h10.8M273.50 647.10v10.8M268.25 647.25l10.5 10.5M268.25 657.75l10.5 -10.5" stroke="#ffa500" stroke-width="1.05" fill="none"/>
<path d="M274.10 630.50h10.8M279.50 625.10v10.8M274.25 625.25l10.5 10.5M274.25 635.75l10.5 -10.5" stroke="#ffa500" stroke-width="1.05" fill="none"/>
<path d="M280.10 623.50h10.8M285.50 618.10v10.8M280.25 618.25l10.5 10.5M280.25 628.75l10.5 -10.5" stroke="#ffa500" stroke-width="1.05" fill="none"/>
<path d="M287.10 629.50h10.8M292.50 624.10v10.8M287.25 624.25l10.5 10.5M287.25 634.75l10.5 -10.5" stroke="#ffa500" stroke-width="1.05" fill="none"/>
<path d="M293.10 641.50h10.8M298.50 636.10v10.8M293.25 636.25l10.5 10.5M293.25 646.75l10.5 -10.5" stroke="#ffa500" stroke-width="1.05" fill="none"/>
<path d="M299.10 647.50h10.8M304.50 642.10v10.8M299.25 642.25l10.5 10.5M299.25 652.75l10.5 -10.5" stroke="#ffa500" stroke-width="1.05" fill="none"/>
<path d="M305.10 667.50h10.8M310.50 662.10v10.8M305.25 662.25l10.5 10.5M305.25 672.75l10.5 -10.5" stroke="#ffa500" stroke-width="1.05" fill="none"/>
<path d="M311.10 701.50h10.8M316.50 696.10v10.8M311.25 696.25l10.5 10.5M311.25 706.75l10.5 -10.5" stroke="#ffa500" stroke-width="1.05" fill="none"/>
<path d="M317.10 716.50h10.8M322.50 711.10v10.8M317.25 711.25l10.5 10.5M317.25 721.75l10.5 -10.5" stroke="#ffa500" stroke-width="1.05" fill="none"/>
<path d="M323.10 704.50h10.8M328.50 699.10v10.8M323.25 699.25l10.5 10.5M323.25 709.75l10.5 -10.5" stroke="#ffa500" stroke-width="1.05" fill="none"/>
<path d="M330.10 658.50h10.8M335.50 653.10v10.8M330.25 653.25l10.5 10.5M330.25 663.75l10.5 -10.5" stroke="#ffa500" stroke-width="1.05" fill="none"/>
<path d="M336.10 612.50h10.8M341.50 607.10v10.8M336.25 607.25l10.5 10.5M336.25 617.75l10.5 -10.5" stroke="#ffa500" stroke-width="1.05" fill="none"/>
<path d="M342.10 611.50h10.8M347.50 606.10v10.8M342.25 606.25l10.5 10.5M342.25 616.75l10.5 -10.5" stroke="#ffa500" stroke-width="1.05" fill="none"/>
<path d="M348.10 605.50h10.8M353.50 600.10v10.8M348.25 600.25l10.5 10.5M348.25 610.75l10.5 -10.5" stroke="#ffa500" stroke-width="1.05" fill="none"/>
<path d="M354.10 608.50h10.8M359.50 603.10v10.8M354.25 603.25l10.5 10.5M354.25 613.75l10.5 -10.5" stroke="#ffa500" stroke-width="1.05" fill="none"/>
<path d="M360.10 595.50h10.8M365.50 590.10v10.8M360.25 590.25l10.5 10.5M360.25 600.75l10.5 -10.5" stroke="#ffa500" stroke-width="1.05" fill="none"/>
<path d="M366.10 604.50h10.8M371.50 599.10v10.8M366.25 599.25l10.5 10.5M366.25 609.75l10.5 -10.5" stroke="#ffa500" stroke-width="1.05" fill="none"/>
<path d="M373.10 622.50h10.8M378.50 617.10v10.8M373.25 617.25l10.5 10.5M373.25 627.75l10.5 -10.5" stroke="#ffa500" stroke-width="1.05" fill="none"/>
<path d="M379.10 625.50h10.8M384.50 620.10v10.8M379.25 620.25l10.5 10.5M379.25 630.75l10.5 -10.5" stroke="#ffa500" stroke-width="1.05" fill="none"/>
<path d="M385.10 638.50h10.8M390.50 633.10v10.8M385.25 633.25l10.5 10.5M385.25 643.75l10.5 -10.5" stroke="#ffa500" stroke-width="1.05" fill="none"/>
<path d="M391.10 644.50h10.8M396.50 639.10v10.8M391.25 639.25l10.5 10.5M391.25 649.75l10.5 -10.5" stroke="#ffa500" stroke-width="1.05" fill="none"/>
<path d="M397.10 656.50h10.8M402.50 651.10v10.8M397.25 651.25l10.5 10.5M397.25 661.75l10.5 -10.5" stroke="#ffa500" stroke-width="1.05" fill="none"/>
<path d="M403.10 662.50h10.8M408.50 657.10v10.8M403.25 657.25l10.5 10.5M403.25 667.75l10.5 -10.5" stroke="#ffa500" stroke-width="1.05" fill="none"/>
<path d="M410.10 669.50h10.8M415.50 664.10v10.8M410.25 664.25l10.5 10.5M410.25 674.75l10.5 -10.5" stroke="#ffa500" stroke-width="1.05" fill="none"/>
<path d="M416.10 675.50h10.8M421.50 670.10v10.8M416.25 670.25l10.5 10.5M416.25 680.75l10.5 -10.5" stroke="#ffa500" stroke-width="1.05" fill="none"/>
<path d="M422.10 682.50h10.8M427.50 677.10v10.8M422.25 677.25l10.5 10.5M422.25 687.75l10.5 -10.5" stroke="#ffa500" stroke-width="1.05" fill="none"/>
<path d="M428.10 693.50h10.8M433.50 688.10v10.8M428.25 688.25l10.5 10.5M428.25 698.75l10.5 -10.5" stroke="#ffa500" stroke-width="1.05" fill="none"/>
<path d="M434.10 698.50h10.8M439.50 693.10v10.8M434.25 693.25l10.5 10.5M434.25 703.75l10.5 -10.5" stroke="#ffa500" stroke-width="1.05" fill="none"/>
<path d="M440.10 720.50h10.8M445.50 715.10v10.8M440.25 715.25l10.5 10.5M440.25 725.75l10.5 -10.5" stroke="#ffa500" stroke-width="1.05" fill="none"/>
<path d="M446.10 722.50h10.8M451.50 717.10v10.8M446.25 717.25l10.5 10.5M446.25 727.75l10.5 -10.5" stroke="#ffa500" stroke-width="1.05" fill="none"/>
<path d="M465.10 721.50h10.8M470.50 716.10v10.8M465.25 716.25l10.5 10.5M465.25 726.75l10.5 -10.5" stroke="#ffa500" stroke-width="1.05" fill="none"/>
<path d="M483.10 649.50h10.8M488.50 644.10v10.8M483.25 644.25l10.5 10.5M483.25 654.75l10.5 -10.5" stroke="#ffa500" stroke-width="1.05" fill="none"/>
<path d="M502.10 634.50h10.8M507.50 629.10v10.8M502.25 629.25l10.5 10.5M502.25 639.75l10.5 -10.5" stroke="#ffa500" stroke-width="1.05" fill="none"/>
<path d="M520.10 680.50h10.8M525.50 675.10v10.8M520.25 675.25l10.5 10.5M520.25 685.75l10.5 -10.5" stroke="#ffa500" stroke-width="1.05" fill="none"/>
<path d="M539.10 685.50h10.8M544.50 680.10v10.8M539.25 680.25l10.5 10.5M539.25 690.75l10.5 -10.5" stroke="#ffa500" stroke-width="1.05" fill="none"/>
<path d="M557.10 701.50h10.8M562.50 696.10v10.8M557.25 696.25l10.5 10.5M557.25 706.75l10.5 -10.5" stroke="#ffa500" stroke-width="1.05" fill="none"/>
<path d="M576.10 667.50h10.8M581.50 662.10v10.8M576.25 662.25l10.5 10.5M576.25 672.75l10.5 -10.5" stroke="#ffa500" stroke-width="1.05" fill="none"/>
<path d="M594.10 675.50h10.8M599.50 670.10v10.8M594.25 670.25l10.5 10.5M594.25 680.75l10.5 -10.5" stroke="#ffa500" stroke-width="1.05" fill="none"/>
<path d="M612.10 703.50h10.8M617.50 698.10v10.8M612.25 698.25l10.5 10.5M612.25 708.75l10.5 -10.5" stroke="#ffa500" stroke-width="1.05" fill="none"/>
<path d="M631.10 641.50h10.8M636.50 636.10v10.8M631.25 636.25l10.5 10.5M631.25 646.75l10.5 -10.5" stroke="#ffa500" stroke-width="1.05" fill="none"/>
<path d="M649.10 592.50h10.8M654.50 587.10v10.8M649.25 587.25l10.5 10.5M649.25 597.75l10.5 -10.5" stroke="#ffa500" stroke-width="1.05" fill="none"/>
<path d="M668.10 656.50h10.8M673.50 651.10v10.8M668.25 651.25l10.5 10.5M668.25 661.75l10.5 -10.5" stroke="#ffa500" stroke-width="1.05" fill="none"/>
<path d="M686.10 731.50h10.8M691.50 726.10v10.8M686.25 726.25l10.5 10.5M686.25 736.75l10.5 -10.5" stroke="#ffa500" stroke-width="1.05" fill="none"/>
<path d="M705.10 728.50h10.8M710.50 723.10v10.8M705.25 723.25l10.5 10.5M705.25 733.75l10.5 -10.5" stroke="#ffa500" stroke-width="1.05" fill="none"/>
<path d="M723.10 733.50h10.8M728.50 728.10v10.8M723.25 728.25l10.5 10.5M723.25 738.75l10.5 -10.5" stroke="#ffa500" stroke-width="1.05" fill="none"/>
<path d="M742.10 736.50h10.8M747.50 731.10v10.8M742.25 731.25l10.5 10.5M742.25 741.75l10.5 -10.5" stroke="#ffa500" stroke-width="1.05" fill="none"/>
<path d="M760.10 735.50h10.8M765.50 730.10v10.8M760.25 730.25l10.5 10.5M760.25 740.75l10.5 -10.5" stroke="#ffa500" stroke-width="1.05" fill="none"/>
<path d="M779.10 683.50h10.8M784.50 678.10v10.8M779.25 678.25l10.5 10.5M779.25 688.75l10.5 -10.5" stroke="#ffa500" stroke-width="1.05" fill="none"/>
<path d="M797.10 636.50h10.8M802.50 631.10v10.8M797.25 631.25l10.5 10.5M797.25 641.75l10.5 -10.5" stroke="#ffa500" stroke-width="1.05" fill="none"/>
<path d="M815.10 673.50h10.8M820.50 668.10v10.8M815.25 668.25l10.5 10.5M815.25 678.75l10.5 -10.5" stroke="#ffa500" stroke-width="1.05" fill="none"/>
<path d="M834.10 719.50h10.8M839.50 714.10v10.8M834.25 714.25l10.5 10.5M834.25 724.75l10.5 -10.5" stroke="#ffa500" stroke-width="1.05" fill="none"/>
<path d="M852.10 698.50h10.8M857.50 693.10v10.8M852.25 693.25l10.5 10.5M852.25 703.75l10.5 -10.5" stroke="#ffa500" stroke-width="1.05" fill="none"/>
<path d="M871.10 697.50h10.8M876.50 692.10v10.8M871.25 692.25l10.5 10.5M871.25 702.75l10.5 -10.5" stroke="#ffa500" stroke-width="1.05" fill="none"/>
<path d="M889.10 720.50h10.8M894.50 715.10v10.8M889.25 715.25l10.5 10.5M889.25 725.75l10.5 -10.5" stroke="#ffa500" stroke-width="1.05" fill="none"/>
<path d="M908.10 725.50h10.8M913.50 720.10v10.8M908.25 720.25l10.5 10.5M908.25 730.75l10.5 -10.5" stroke="#ffa500" stroke-width="1.05" fill="none"/>
<path d="M926.10 650.50h10.8M931.50 645.10v10.8M926.25 645.25l10.5 10.5M926.25 655.75l10.5 -10.5" stroke="#ffa500" stroke-width="1.05" fill="none"/>
<path d="M945.10 621.50h10.8M950.50 616.10v10.8M945.25 616.25l10.5 10.5M945.25 626.75l10.5 -10.5" stroke="#ffa500" stroke-width="1.05" fill="none"/>
<path d="M963.10 696.50h10.8M968.50 691.10v10.8M963.25 691.25l10.5 10.5M963.25 701.75l10.5 -10.5" stroke="#ffa500" stroke-width="1.05" fill="none"/>
<path d="M982.10 741.50h10.8M987.50 736.10v10.8M982.25 736.25l10.5 10.5M982.25 746.75l10.5 -10.5" stroke="#ffa500" stroke-width="1.05" fill="none"/>
<path d="M1000.10 736.50h10.8M1005.50 731.10v10.8M1000.25 731.25l10.5 10.5M1000.25 741.75l10.5 -10.5" stroke="#ffa500" stroke-width="1.05" fill="none"/>
<path d="M1018.10 746.50h10.8M1023.50 741.10v10.8M1018.25 741.25l10.5 10.5M1018.25 751.75l10.5 -10.5" stroke="#ffa500" stroke-width="1.05" fill="none"/>
<path d="M1037.10 751.50h10.8M1042.50 746.10v10.8M1037.25 746.25l10.5 10.5M1037.25 756.75l10.5 -10.5" stroke="#ffa500" stroke-width="1.05" fill="none"/>
<path d="M1055.10 774.50h10.8M1060.50 769.10v10.8M1055.25 769.25l10.5 10.5M1055.25 779.75l10.5 -10.5" stroke="#ffa500" stroke-width="1.05" fill="none"/>
<path d="M1074.10 742.50h10.8M1079.50 737.10v10.8M1074.25 737.25l10.5 10.5M1074.25 747.75l10.5 -10.5" stroke="#ffa500" stroke-width="1.05" fill="none"/>
<path d="M1092.10 721.50h10.8M1097.50 716.10v10.8M1092.25 716.25l10.5 10.5M1092.25 726.75l10.5 -10.5" stroke="#ffa500" stroke-width="1.05" fill="none"/>
<path d="M1111.10 742.50h10.8M1116.50 737.10v10.8M1111.25 737.25l10.5 10.5M1111.25 747.75l10.5 -10.5" stroke="#ffa500" stroke-width="1.05" fill="none"/>
<path d="M1129.10 745.50h10.8M1134.50 740.10v10.8M1129.25 740.25l10.5 10.5M1129.25 750.75l10.5 -10.5" stroke="#ffa500" stroke-width="1.05" fill="none"/>
<path d="M1148.10 737.50h10.8M1153.50 732.10v10.8M1148.25 732.25l10.5 10.5M1148.25 742.75l10.5 -10.5" stroke="#ffa500" stroke-width="1.05" fill="none"/>
<path d="M1166.10 742.50h10.8M1171.50 737.10v10.8M1166.25 737.25l10.5 10.5M1166.25 747.75l10.5 -10.5" stroke="#ffa500" stroke-width="1.05" fill="none"/>
<path d="M1185.10 753.50h10.8M1190.50 748.10v10.8M1185.25 748.25l10.5 10.5M1185.25 758.75l10.5 -10.5" stroke="#ffa500" stroke-width="1.05" fill="none"/>
<path d="M1203.10 767.50h10.8M1208.50 762.10v10.8M1203.25 762.25l10.5 10.5M1203.25 772.75l10.5 -10.5" stroke="#ffa500" stroke-width="1.05" fill="none"/>
<path d="M1221.10 726.50h10.8M1226.50 721.10v10.8M1221.25 721.25l10.5 10.5M1221.25 731.75l10.5 -10.5" stroke="#ffa500" stroke-width="1.05" fill="none"/>
<path d="M1240.10 690.50h10.8M1245.50 685.10v10.8M1240.25 685.25l10.5 10.5M1240.25 695.75l10.5 -10.5" stroke="#ffa500" stroke-width="1.05" fill="none"/>
<path d="M1258.10 735.50h10.8M1263.50 730.10v10.8M1258.25 730.25l10.5 10.5M1258.25 740.75l10.5 -10.5" stroke="#ffa500" stroke-width="1.05" fill="none"/>
<path d="M1277.10 769.50h10.8M1282.50 764.10v10.8M1277.25 764.25l10.5 10.5M1277.25 774.75l10.5 -10.5" stroke="#ffa500" stroke-width="1.05" fill="none"/>
<path d="M1295.10 769.50h10.8M1300.50 764.10v10.8M1295.25 764.25l10.5 10.5M1295.25 774.75l10.5 -10.5" stroke="#ffa500" stroke-width="1.05" fill="none"/>
<path d="M1314.10 756.50h10.8M1319.50 751.10v10.8M1314.25 751.25l10.5 10.5M1314.25 761.75l10.5 -10.5" stroke="#ffa500" stroke-width="1.05" fill="none"/>
<path d="M1332.10 755.50h10.8M1337.50 750.10v10.8M1332.25 750.25l10.5 10.5M1332.25 760.75l10.5 -10.5" stroke="#ffa500" stroke-width="1.05" fill="none"/>
<path d="M1351.10 769.50h10.8M1356.50 764.10v10.8M1351.25 764.25l10.5 10.5M1351.25 774.75l10.5 -10.5" stroke="#ffa500" stroke-width="1.05" fill="none"/>
<path d="M1369.10 729.50h10.8M1374.50 724.10v10.8M1369.25 724.25l10.5 10.5M1369.25 734.75l10.5 -10.5" stroke="#ffa500" stroke-width="1.05" fill="none"/>
<path d="M1387.10 689.50h10.8M1392.50 684.10v10.8M1387.25 684.25l10.5 10.5M1387.25 694.75l10.5 -10.5" stroke="#ffa500" stroke-width="1.05" fill="none"/>
<path d="M1406.10 726.50h10.8M1411.50 721.10v10.8M1406.25 721.25l10.5 10.5M1406.25 731.75l10.5 -10.5" stroke="#ffa500" stroke-width="1.05" fill="none"/>
<path d="M1443.10 737.50h10.8M1448.50 732.10v10.8M1443.25 732.25l10.5 10.5M1443.25 742.75l10.5 -10.5" stroke="#ffa500" stroke-width="1.05" fill="none"/>
</g>
</g>
<text class="t lg" transform="translate(1338.60,118.10) scale(1,1.04)" text-anchor="end">ECMWF</text>
<rect x="1384.00" y="105.00" width="9.0" height="9.0" fill="#0000cd"/>
<text class="t lg" transform="translate(1338.60,146.10) scale(1,1.04)" text-anchor="end">HRRR</text>
<circle cx="1388.50" cy="137.50" r="5.7" fill="#006400"/>
<text class="t lg" transform="translate(1338.60,174.10) scale(1,1.04)" text-anchor="end">NAM 3 km</text>
<path d="M1388.50 159.30l5.9 10.7h-11.8z" fill="#ff0000"/>
<text class="t lg" transform="translate(1338.60,202.10) scale(1,1.04)" text-anchor="end">NAM 12 km</text>
<path d="M1388.50 199.70l5.9 -10.7h-11.8z" fill="#000000"/>
<text class="t lg" transform="translate(1338.60,230.10) scale(1,1.04)" text-anchor="end">GFS 0.125°</text>
<path d="M1388.50 215.90l5.6 5.6l-5.6 5.6l-5.6 -5.6z" fill="#bebebe"/>
<text class="t lg" transform="translate(1338.60,258.10) scale(1,1.04)" text-anchor="end">GFS 0.250°</text>
<polygon points="1388.50,255.10 1383.17,251.23 1385.21,244.97 1391.79,244.97 1393.83,251.23" fill="#87ceeb"/>
<text class="t lg" transform="translate(1338.60,286.10) scale(1,1.04)" text-anchor="end">NBM</text>
<path d="M1383.10 277.50h10.8M1388.50 272.10v10.8M1383.25 272.25l10.5 10.5M1383.25 282.75l10.5 -10.5" stroke="#ffa500" stroke-width="1.05" fill="none"/>
</svg>
</body>
</html>
